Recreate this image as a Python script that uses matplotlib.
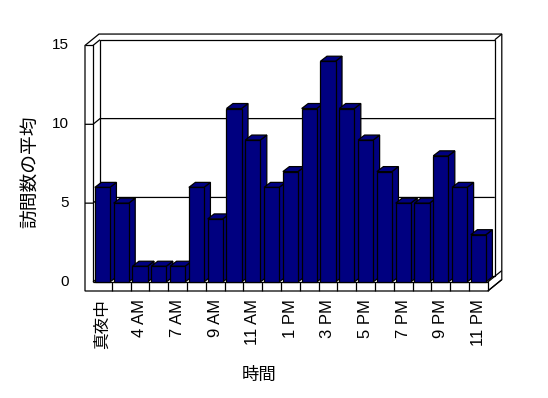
import matplotlib
matplotlib.use("Agg")
import matplotlib.pyplot as plt
from matplotlib.patches import Polygon

# ---- data ----
categories = ["真夜中", "2 AM", "4 AM", "6 AM", "7 AM", "8 AM", "9 AM", "10 AM",
              "11 AM", "12 PM", "1 PM", "2 PM", "3 PM", "4 PM", "5 PM", "6 PM",
              "7 PM", "8 PM", "9 PM", "10 PM", "11 PM"]
values = [6, 5, 1, 1, 1, 6, 4, 11, 9, 6, 7, 11, 14, 11, 9, 7, 5, 5, 8, 6, 3]
y_ticks = [0, 5, 10, 15]
x_title = "時間"
y_title = "訪問数の平均"

plt.rcParams['font.family'] = ['Liberation Sans', 'Noto Sans CJK JP', 'DejaVu Sans']

W_PX, H_PX = 548, 398
SX, SY = 18.8, 15.77          # pixels per category / per value unit
X0_PX, Y0_PX = 93, 282        # pixel position of data origin (from top-left)

fig = plt.figure(figsize=(W_PX / 100, H_PX / 100), dpi=100)
ax = fig.add_axes([0, 0, 1, 1])
ax.set_xlim(-X0_PX / SX, (W_PX - X0_PX) / SX)
ax.set_ylim(-(H_PX - Y0_PX) / SY, Y0_PX / SY)
ax.axis('off')

n = len(values)
H = max(y_ticks)
Dx, Dy = 7 / SX, 5.7 / SY     # depth offset of the back wall
wl = -8 / SX                  # left wall front thickness
wf = -9 / SY                  # floor front thickness
lw = 0.9
ec = 'black'

def poly(pts, fc='white', z=1):
    ax.add_patch(Polygon(pts, closed=True, facecolor=fc, edgecolor=ec,
                         linewidth=lw, zorder=z, joinstyle='miter'))

def line(xs, ys, z=2):
    ax.plot(xs, ys, color=ec, linewidth=lw, zorder=z, solid_capstyle='butt')

# silhouette of walls + floor
poly([(wl, H), (wl + 2 * Dx, H + 2 * Dy), (n + 2 * Dx, H + 2 * Dy),
      (n + 2 * Dx, wf + 2 * Dy), (n, wf), (wl, wf)], z=1)
# back wall inner face
poly([(Dx, Dy), (Dx, H + Dy), (n + Dx, H + Dy), (n + Dx, Dy)], z=1.5)
# left wall front face edges
line([wl, 0, 0], [H, H, 0])
line([0, Dx], [H, H + Dy])
line([0, Dx], [0, Dy])
# floor front top edge and right face
line([0, n, n], [0, 0, wf])
line([n, n + 2 * Dx], [0, 2 * Dy])
line([n, n + 2 * Dx], [wf, wf + 2 * Dy])
# back wall right face top
line([n + Dx, n + 2 * Dx], [H + Dy, H + 2 * Dy])
# category dividers on floor front
for i in range(1, n):
    line([i, i], [wf, 0])
# gridlines & tick marks
for t in y_ticks[1:-1]:
    line([wl, 0, Dx, n + Dx], [t, t, t + Dy, t + Dy], z=2)
for t in y_ticks:
    ax.text(-24 / SX, t, str(t), ha='right', va='center', fontsize=11)

# bars
bw0, bw1 = 0.1, 0.9
bdx, bdy = 6.5 / SX, 5 / SY
bar_color = '#000080'
for i, v in enumerate(values):
    z = 3 + i * 0.01
    xl, xr = i + bw0, i + bw1
    poly([(xr, 0), (xr, v), (xr + bdx, v + bdy), (xr + bdx, bdy)], fc=bar_color, z=z)
    poly([(xl, v), (xr, v), (xr + bdx, v + bdy), (xl + bdx, v + bdy)], fc=bar_color, z=z)
    poly([(xl, 0), (xl, v), (xr, v), (xr, 0)], fc=bar_color, z=z + 0.001)

# x tick labels (every other category)
for i, c in enumerate(categories):
    if i % 2 == 0:
        ax.text(i + 0.5, -17 / SY, c, rotation=90, ha='center', va='top', fontsize=12)

ax.text((259 - X0_PX) / SX, (Y0_PX - 375) / SY, x_title, ha='center', va='center', fontsize=12.5)
ax.text((31 - X0_PX) / SX, (Y0_PX - 172) / SY, y_title, ha='center', va='center',
        rotation=90, fontsize=13.5)

fig.savefig("out.png", dpi=100)
